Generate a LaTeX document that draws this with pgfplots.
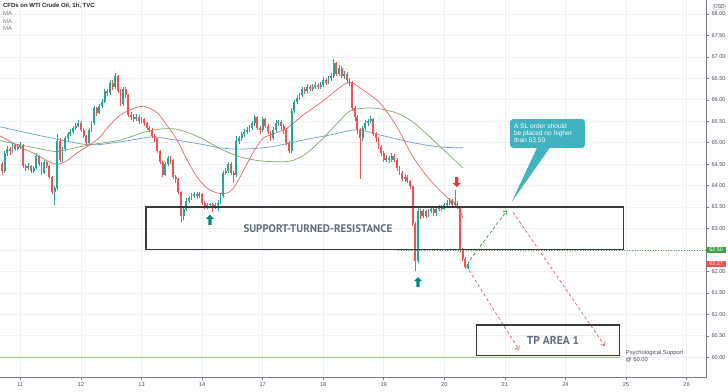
\documentclass[border=0pt]{standalone}
\usepackage{fontspec}
\setmainfont{Liberation Sans}
\newfontfamily\ptsans{PT Sans}
\usepackage{pgfplots}
\pgfplotsset{compat=1.18}
\usepackage{pgfplotstable}
\usetikzlibrary{shapes.arrows, arrows.meta}

\definecolor{upc}{RGB}{38,166,154}
\definecolor{dnc}{RGB}{239,83,80}
\definecolor{gridc}{RGB}{236,239,245}
\definecolor{axc}{RGB}{120,123,134}
\definecolor{lblc}{RGB}{70,75,90}
\definecolor{maRed}{RGB}{235,100,100}
\definecolor{maGreen}{RGB}{120,170,100}
\definecolor{maBlue}{RGB}{100,160,215}
\definecolor{boxc}{RGB}{55,57,62}
\definecolor{txtc}{RGB}{95,108,124}
\definecolor{psyc}{RGB}{150,200,120}
\definecolor{dotg}{RGB}{67,160,71}
\definecolor{calc}{RGB}{64,178,192}
\definecolor{arrG}{RGB}{0,137,123}
\definecolor{arrR}{RGB}{229,57,53}
\definecolor{dashR}{RGB}{230,90,90}
\definecolor{dashG}{RGB}{56,142,60}

\pgfplotstableread{
n o h l c
-7 64.50 64.55 64.25 64.35
-6 64.35 64.80 64.30 64.75
-5 64.75 64.92 64.70 64.85
-4 64.85 64.90 64.72 64.80
-3 64.80 65.00 64.76 64.95
-2 64.95 64.98 64.80 64.85
-1 64.85 64.96 64.82 64.90
0 64.90 65.02 64.86 64.95
1 64.95 64.98 64.40 64.45
2 64.45 64.50 64.34 64.40
3 64.40 64.52 64.36 64.45
4 64.45 64.48 64.30 64.35
5 64.35 64.46 64.30 64.40
6 64.40 64.75 64.38 64.70
7 64.70 64.72 64.45 64.50
8 64.50 64.54 64.24 64.30
9 64.30 64.60 64.27 64.55
10 64.55 64.58 64.40 64.45
11 64.45 64.48 64.15 64.20
12 64.20 64.22 63.80 63.85
13 63.85 64.00 63.55 63.95
14 63.95 65.20 63.90 65.05
15 65.05 65.10 64.55 64.60
16 64.60 64.90 64.55 64.85
17 64.85 65.15 64.80 65.10
18 65.10 65.26 65.05 65.20
19 65.20 65.32 65.15 65.25
20 65.25 65.40 65.20 65.35
21 65.35 65.46 65.30 65.40
22 65.40 65.52 65.36 65.45
23 65.45 65.50 65.25 65.30
24 65.30 65.34 65.10 65.15
25 65.15 65.18 64.95 65.00
26 65.00 65.35 64.97 65.30
27 65.30 65.50 65.26 65.45
28 65.45 65.85 65.42 65.80
29 65.80 65.84 65.62 65.70
30 65.70 65.90 65.66 65.85
31 65.85 66.02 65.80 65.95
32 65.95 66.25 65.92 66.20
33 66.20 66.26 66.08 66.15
34 66.15 66.45 66.10 66.40
35 66.40 66.46 66.22 66.30
36 66.30 66.62 66.26 66.55
37 66.55 66.58 66.15 66.20
38 66.20 66.24 65.85 65.90
39 65.90 66.30 65.86 66.25
40 66.25 66.30 66.05 66.10
41 66.10 66.14 65.60 65.65
42 65.65 65.72 65.52 65.60
43 65.60 65.66 65.48 65.55
44 65.55 65.66 65.50 65.60
45 65.60 65.64 65.44 65.50
46 65.50 65.60 65.45 65.55
47 65.55 65.58 65.40 65.45
48 65.45 65.48 65.30 65.35
49 65.35 65.40 65.24 65.30
50 65.30 65.34 65.10 65.15
51 65.15 65.20 65.02 65.10
52 65.10 65.12 64.75 64.80
53 64.80 64.84 64.50 64.55
54 64.55 64.58 64.20 64.25
55 64.25 64.56 64.22 64.50
56 64.50 64.70 64.45 64.65
57 64.65 64.70 64.50 64.60
58 64.60 64.62 64.15 64.20
59 64.20 64.25 64.05 64.15
60 64.15 64.18 63.80 63.85
61 63.85 63.88 63.15 63.30
62 63.30 63.52 63.20 63.45
63 63.45 63.70 63.40 63.65
64 63.65 63.76 63.60 63.70
65 63.70 63.82 63.66 63.75
66 63.75 63.86 63.70 63.80
67 63.80 63.84 63.68 63.75
68 63.75 63.86 63.70 63.80
69 63.80 63.82 63.55 63.60
70 63.60 63.64 63.45 63.50
71 63.50 63.60 63.46 63.55
72 63.55 63.60 63.48 63.57
73 63.57 63.60 63.38 63.50
74 63.50 63.60 63.46 63.55
75 63.55 63.66 63.40 63.60
76 63.60 63.80 63.56 63.75
77 63.75 64.34 63.72 64.30
78 64.30 64.42 64.24 64.35
79 64.35 64.56 64.30 64.50
80 64.50 64.54 64.25 64.30
81 64.30 64.35 64.05 64.25
82 64.25 65.15 64.20 65.05
83 65.05 65.16 64.98 65.10
84 65.10 65.26 65.05 65.20
85 65.20 65.32 65.14 65.25
86 65.25 65.36 65.20 65.30
87 65.30 65.42 65.26 65.35
88 65.35 65.50 65.30 65.45
89 65.45 65.65 65.40 65.60
90 65.60 65.62 65.30 65.35
91 65.35 65.40 65.20 65.30
92 65.30 65.60 65.26 65.55
93 65.55 65.58 65.35 65.40
94 65.40 65.44 65.20 65.25
95 65.25 65.28 65.04 65.10
96 65.10 65.36 65.06 65.30
97 65.30 65.52 65.26 65.45
98 65.45 65.54 65.40 65.48
99 65.48 65.52 65.30 65.40
100 65.40 65.44 65.20 65.30
101 65.30 65.34 64.95 65.00
102 65.00 65.04 64.75 64.80
103 64.80 65.80 64.76 65.75
104 65.75 66.00 65.70 65.95
105 65.95 66.12 65.90 66.05
106 66.05 66.16 66.00 66.10
107 66.10 66.30 66.06 66.25
108 66.25 66.30 66.14 66.20
109 66.20 66.36 66.16 66.30
110 66.30 66.34 66.20 66.25
111 66.25 66.36 66.20 66.30
112 66.30 66.42 66.26 66.35
113 66.35 66.40 66.24 66.30
114 66.30 66.42 66.26 66.35
115 66.35 66.52 66.30 66.45
116 66.45 66.50 66.34 66.40
117 66.40 66.56 66.36 66.50
118 66.50 66.62 66.44 66.55
119 66.55 66.95 66.50 66.85
120 66.85 66.88 66.55 66.60
121 66.60 66.80 66.55 66.75
122 66.75 66.78 66.50 66.55
123 66.55 66.66 66.48 66.60
124 66.60 66.64 66.40 66.45
125 66.45 66.50 66.32 66.40
126 66.40 66.44 65.75 65.80
127 65.80 65.85 65.50 65.60
128 65.60 65.64 65.20 65.30
129 65.30 65.35 64.15 65.10
130 65.10 65.40 65.05 65.35
131 65.35 65.52 65.30 65.45
132 65.45 65.56 65.40 65.50
133 65.50 65.62 65.45 65.55
134 65.55 65.58 65.15 65.20
135 65.20 65.24 65.02 65.10
136 65.10 65.14 64.85 64.90
137 64.90 64.94 64.70 64.75
138 64.75 64.80 64.55 64.60
139 64.60 64.72 64.55 64.65
140 64.65 64.70 64.52 64.60
141 64.60 64.76 64.55 64.70
142 64.70 64.74 64.55 64.60
143 64.60 64.64 64.35 64.40
144 64.40 64.45 64.25 64.30
145 64.30 64.34 64.10 64.15
146 64.15 64.26 64.08 64.20
147 64.20 64.24 64.05 64.10
148 64.10 64.14 63.92 63.98
149 63.98 64.00 63.05 63.10
150 63.10 63.15 62.00 62.25
151 62.25 63.48 62.20 63.40
152 63.40 63.45 63.22 63.30
153 63.30 63.46 63.25 63.40
154 63.40 63.44 63.24 63.30
155 63.30 63.46 63.26 63.40
156 63.40 63.50 63.35 63.45
157 63.45 63.48 63.30 63.35
158 63.35 63.50 63.30 63.45
159 63.45 63.55 63.40 63.50
160 63.50 63.54 63.40 63.45
161 63.45 63.60 63.42 63.55
162 63.55 63.66 63.50 63.60
163 63.60 63.70 63.55 63.65
164 63.65 63.68 63.50 63.55
165 63.55 63.90 63.50 63.60
166 63.60 63.64 63.45 63.50
167 63.50 63.52 62.45 62.50
168 62.50 62.55 62.25 62.30
169 62.30 62.34 62.05 62.10
170 62.10 62.22 62.06 62.17
}\candles

\begin{document}
\begin{tikzpicture}
\begin{axis}[
  at={(0pt,13.5pt)}, anchor=south west,
  scale only axis, width=706pt, height=377.5pt,
  xmin=-7.75, xmax=260.4, ymin=59.527, ymax=68.326,
  axis x line*=bottom, axis y line*=right,
  axis line style={draw=axc, line width=0.7pt},
  clip=false,
  xtick={0,23,46,69,92,115,138,161,184,207,230,253},
  xticklabels={11,12,13,14,17,18,19,20,21,24,25,26},
  ytick={60,60.5,61,61.5,62,63,63.5,64,64.5,65,65.5,66,66.5,67,67.5,68},
  extra y ticks={62.5}, extra y tick labels={},
  extra y tick style={grid=major},
  grid=major, major grid style={draw=gridc, line width=0.6pt},
  tick align=outside, major tick length=2.5pt,
  tick style={draw=axc, line width=0.5pt},
  /pgf/number format/assume math mode=true,
  yticklabel style={font=\fontsize{5.6}{6}\selectfont, text=lblc, xshift=-0.5pt,
    /pgf/number format/fixed, /pgf/number format/fixed zerofill, /pgf/number format/precision=2},
  xticklabel style={font=\fontsize{5.6}{6}\selectfont, text=lblc, yshift=0.5pt},
]
% moving averages
\addplot[maBlue, line width=0.7pt, smooth, tension=0.5] coordinates {
(-7.75,65.37) (12.4,65.10) (26.4,64.95) (37.8,65.02) (49.2,65.13) (53.0,65.12) (68.2,64.97) (75.8,64.88) (83.4,64.85) (94.8,64.90) (107.3,65.06) (117.6,65.18) (127.8,65.30) (136.6,65.18) (149.1,65.00) (159.4,64.90) (168.1,64.88)};
\addplot[maGreen, line width=0.7pt, smooth, tension=0.5] coordinates {
(-7.75,65.05) (-0.15,64.95) (12.4,64.80) (16.2,64.82) (26.4,64.95) (37.8,65.06) (49.2,65.28) (58.7,65.32) (68.2,65.12) (75.8,64.86) (83.4,64.67) (92.1,64.57) (102.4,64.57) (108.8,64.76) (114.9,65.10) (119.5,65.40) (125.2,65.74) (130.1,65.80) (135.4,65.80) (143.0,65.69) (149.1,65.48) (155.6,65.13) (162.0,64.76) (168.1,64.41)};
\addplot[maRed, line width=0.7pt, smooth, tension=0.5] coordinates {
(-7.75,65.16) (-0.15,64.90) (4.8,64.76) (11.2,64.55) (14.3,64.50) (17.7,64.58) (21.5,64.76) (26.4,64.95) (30.2,65.13) (34.0,65.41) (37.8,65.64) (41.6,65.76) (46.6,65.85) (51.9,65.70) (55.7,65.40) (59.5,65.06) (63.3,64.60) (67.1,64.20) (70.9,63.94) (74.7,63.83) (78.1,63.82) (80.7,63.92) (83.4,64.20) (88.3,64.76) (92.1,65.10) (95.9,65.20) (101.3,65.34) (107.3,65.64) (113.8,65.92) (119.5,66.20) (123.3,66.37) (125.9,66.40) (130.1,66.23) (136.6,65.92) (143.0,65.37) (149.1,64.67) (155.6,64.13) (162.0,63.73) (165.8,63.55) (168.1,63.25)};
% candles: wicks
\addplot[draw=none, mark=none, forget plot, restrict expr to domain={\thisrow{c}-\thisrow{o}}{0:100},
  error bars/.cd, y dir=plus, y explicit, error mark=none, error bar style={draw=upc, line width=0.55pt}]
  table[x=n, y=l, y error plus expr={\thisrow{h}-\thisrow{l}}] {\candles};
\addplot[draw=none, mark=none, forget plot, restrict expr to domain={\thisrow{c}-\thisrow{o}}{-100:-0.0001},
  error bars/.cd, y dir=plus, y explicit, error mark=none, error bar style={draw=dnc, line width=0.55pt}]
  table[x=n, y=l, y error plus expr={\thisrow{h}-\thisrow{l}}] {\candles};
% candles: bodies
\addplot[draw=none, mark=none, forget plot, restrict expr to domain={\thisrow{c}-\thisrow{o}}{0:100},
  error bars/.cd, y dir=plus, y explicit, error mark=none, error bar style={draw=upc, line width=1.9pt}]
  table[x=n, y=o, y error plus expr={\thisrow{c}-\thisrow{o}}] {\candles};
\addplot[draw=none, mark=none, forget plot, restrict expr to domain={\thisrow{c}-\thisrow{o}}{-100:-0.0001},
  error bars/.cd, y dir=plus, y explicit, error mark=none, error bar style={draw=dnc, line width=1.9pt}]
  table[x=n, y=c, y error plus expr={\thisrow{o}-\thisrow{c}}] {\candles};

% psychological support line
\draw[psyc, line width=1.2pt] (axis cs:-7.75,60) -- (axis cs:227.7,60);
\node[anchor=west, align=left, inner sep=0pt, font=\fontsize{5.8}{6.3}\selectfont, text=lblc] at (axis cs:229.9,60.02) {Psychological Support\\@ 60.00};
% 62.50 dotted line
\draw[dotg, line width=0.8pt, dash pattern=on 1pt off 1.6pt] (axis cs:143.4,62.5) -- (axis cs:260.4,62.5);
% support-turned-resistance box
\draw[boxc, line width=1.1pt] (axis cs:47.7,62.52) rectangle (axis cs:228.9,63.5);
\node[text=txtc, font=\ptsans\bfseries\fontsize{11}{12}\selectfont] at (axis cs:113,63.0) {SUPPORT-TURNED-RESISTANCE};
% TP box
\draw[boxc, line width=1.1pt] (axis cs:173.4,60.03) rectangle (axis cs:227.7,60.75);
\node[text=txtc, font=\ptsans\bfseries\fontsize{11.5}{12}\selectfont] at (axis cs:202.3,60.40) {TP AREA 1};
% projection arrows
\draw[dashG, line width=0.7pt, dash pattern=on 3pt off 2.5pt, -{Straight Barb[length=3pt,width=5pt]}] (axis cs:170.8,62.27) -- (axis cs:184.8,63.42);
\draw[dashR, line width=0.7pt, dash pattern=on 3pt off 2.5pt, -{Straight Barb[length=3pt,width=5pt]}] (axis cs:169.3,62.13) -- (axis cs:189.4,60.17);
\draw[dashR, line width=0.7pt, dash pattern=on 3pt off 2.5pt, -{Straight Barb[length=3pt,width=5pt]}] (axis cs:187.1,63.38) -- (axis cs:222,60.26);
% callout
\fill[calc, rounded corners=3pt] (axis cs:186,64.88) rectangle (axis cs:214.4,65.55);
\fill[calc] (axis cs:196.5,64.92) -- (axis cs:186.6,63.62) -- (axis cs:201.5,64.92) -- cycle;
\node[anchor=west, align=left, inner sep=0pt, text=white, font=\fontsize{6.6}{7.2}\selectfont] at (axis cs:187.4,65.22) {A SL order should\\be placed no higher\\than 63.50};
% signal arrows
\node[single arrow, fill=arrG, draw=none, inner sep=1.4pt, minimum height=10pt, single arrow head extend=2.4pt, shape border rotate=90] at (axis cs:72,63.185) {};
\node[single arrow, fill=arrG, draw=none, inner sep=1.4pt, minimum height=10pt, single arrow head extend=2.4pt, shape border rotate=90] at (axis cs:151,61.73) {};
\node[single arrow, fill=arrR, draw=none, inner sep=1.4pt, minimum height=10pt, single arrow head extend=2.4pt, shape border rotate=270] at (axis cs:165.7,64.1) {};
% price labels
\node[anchor=west, fill=dotg, text=white, inner sep=1.2pt, minimum width=20pt, font=\fontsize{5.4}{6}\selectfont] at (axis cs:260.4,62.5) {62.50};
\node[anchor=west, fill=dnc, text=white, inner sep=1.2pt, minimum width=20pt, font=\fontsize{5.4}{6}\selectfont] at (axis cs:260.4,62.17) {62.17};
\node[draw=axc!60, rounded corners=1.5pt, inner sep=1pt, text=lblc, font=\fontsize{5}{5.5}\selectfont, line width=0.4pt] at (axis cs:265.5,68.16) {USD};
% title and legend
\node[anchor=west, inner sep=0pt, text=black!85, font=\bfseries\fontsize{6}{7}\selectfont] at (rel axis cs:0.004,0.985) {CFDs on WTI Crude Oil, 1h, TVC};
\node[anchor=west, inner sep=0pt, text=axc, font=\fontsize{6}{7}\selectfont] at (rel axis cs:0.004,0.964) {MA};
\node[anchor=west, inner sep=0pt, text=axc, font=\fontsize{6}{7}\selectfont] at (rel axis cs:0.004,0.944) {MA};
\node[anchor=west, inner sep=0pt, text=axc, font=\fontsize{6}{7}\selectfont] at (rel axis cs:0.004,0.9245) {MA};
\end{axis}
\pgfresetboundingbox
\path[use as bounding box] (0,0) rectangle (728pt,391pt);
\end{tikzpicture}
\end{document}
